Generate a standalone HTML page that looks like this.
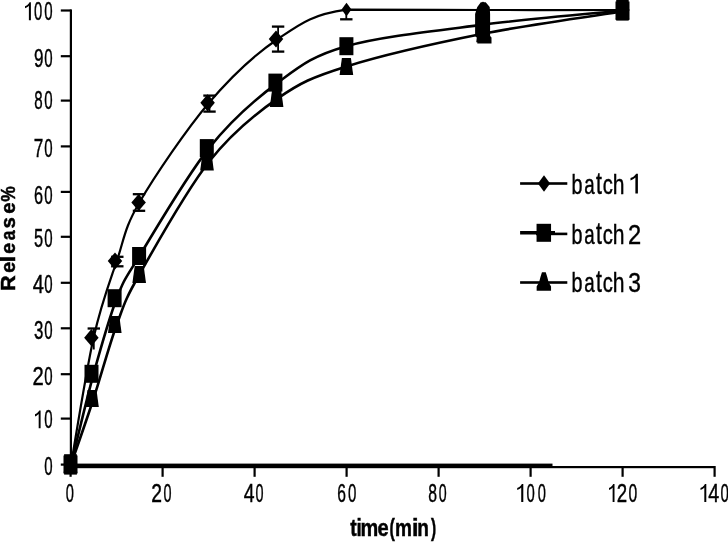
<!DOCTYPE html>
<html><head><meta charset="utf-8"><style>
html,body{margin:0;padding:0;background:#fff;}
svg{display:block;font-family:"Liberation Sans",sans-serif;will-change:transform;}
</style></head><body>
<svg width="728" height="542" viewBox="0 0 728 542">
<rect x="69.8" y="9.4" width="2.2" height="458" fill="#000"/>
<rect x="70" y="466" width="644.5" height="2.2" fill="#000"/>
<rect x="70" y="463.6" width="482.5" height="3" fill="#000"/>
<rect x="60.8" y="463.50" width="10" height="2.2" fill="#000"/>
<rect x="60.8" y="417.50" width="10" height="2.2" fill="#000"/>
<rect x="60.8" y="373.10" width="10" height="2.2" fill="#000"/>
<rect x="60.8" y="327.20" width="10" height="2.2" fill="#000"/>
<rect x="60.8" y="281.70" width="10" height="2.2" fill="#000"/>
<rect x="60.8" y="235.70" width="10" height="2.2" fill="#000"/>
<rect x="60.8" y="190.80" width="10" height="2.2" fill="#000"/>
<rect x="60.8" y="145.30" width="10" height="2.2" fill="#000"/>
<rect x="60.8" y="99.50" width="10" height="2.2" fill="#000"/>
<rect x="60.8" y="55.10" width="10" height="2.2" fill="#000"/>
<rect x="60.8" y="9.40" width="10" height="2.2" fill="#000"/>
<rect x="69.50" y="466" width="2.2" height="10.8" fill="#000"/>
<rect x="161.50" y="466" width="2.2" height="10.8" fill="#000"/>
<rect x="253.50" y="466" width="2.2" height="10.8" fill="#000"/>
<rect x="345.50" y="466" width="2.2" height="10.8" fill="#000"/>
<rect x="437.50" y="466" width="2.2" height="10.8" fill="#000"/>
<rect x="529.50" y="466" width="2.2" height="10.8" fill="#000"/>
<rect x="621.50" y="466" width="2.2" height="10.8" fill="#000"/>
<rect x="713.50" y="466" width="2.2" height="10.8" fill="#000"/>
<path d="M71.00,464.50 C74.77,443.37 85.97,371.62 93.60,337.70 C101.23,303.78 109.17,283.53 116.80,261.00 C124.43,238.47 124.03,228.87 139.40,202.50 C154.77,176.13 185.93,130.05 209.00,102.80 C232.07,75.55 254.88,54.53 277.80,39.00 C300.72,23.47 312.13,14.43 346.50,9.60 C380.87,9.60 438.00,9.93 484.00,10.00 C530.00,10.07 599.42,10.00 622.50,10.00" fill="none" stroke="#000" stroke-width="2.2"/>
<path d="M71.00,464.50 C74.77,449.38 85.97,401.52 93.60,373.80 C101.23,346.08 109.17,317.83 116.80,298.20 C124.43,278.57 124.03,281.02 139.40,256.00 C154.77,230.98 185.93,177.00 209.00,148.10 C232.07,119.20 254.88,99.58 277.80,82.60 C300.72,65.62 312.13,55.87 346.50,46.20 C380.87,36.53 438.00,30.55 484.00,24.60 C530.00,18.65 599.42,12.85 622.50,10.50" fill="none" stroke="#000" stroke-width="2.6"/>
<path d="M71.00,464.50 C74.77,453.50 85.97,421.83 93.60,398.50 C101.23,375.17 109.17,345.17 116.80,324.50 C124.43,303.83 124.03,301.62 139.40,274.50 C154.77,247.38 185.93,191.15 209.00,161.80 C232.07,132.45 254.88,114.28 277.80,98.40 C300.72,82.52 312.13,77.30 346.50,66.50 C380.87,55.70 438.00,42.77 484.00,33.60 C530.00,24.43 599.42,15.18 622.50,11.50" fill="none" stroke="#000" stroke-width="2.6"/>
<line x1="93.80" y1="328.50" x2="93.80" y2="349.50" stroke="#000" stroke-width="1.8"/>
<line x1="87.60" y1="328.50" x2="100.00" y2="328.50" stroke="#000" stroke-width="2.3"/>
<line x1="117.30" y1="256.80" x2="117.30" y2="266.30" stroke="#000" stroke-width="1.8"/>
<line x1="111.10" y1="256.80" x2="123.50" y2="256.80" stroke="#000" stroke-width="2.3"/>
<line x1="111.10" y1="266.30" x2="123.50" y2="266.30" stroke="#000" stroke-width="2.3"/>
<line x1="139.00" y1="194.20" x2="139.00" y2="210.80" stroke="#000" stroke-width="1.8"/>
<line x1="132.80" y1="194.20" x2="145.20" y2="194.20" stroke="#000" stroke-width="2.3"/>
<line x1="132.80" y1="210.80" x2="145.20" y2="210.80" stroke="#000" stroke-width="2.3"/>
<line x1="209.50" y1="95.60" x2="209.50" y2="111.60" stroke="#000" stroke-width="1.8"/>
<line x1="203.30" y1="95.60" x2="215.70" y2="95.60" stroke="#000" stroke-width="2.3"/>
<line x1="203.30" y1="111.60" x2="215.70" y2="111.60" stroke="#000" stroke-width="2.3"/>
<line x1="278.10" y1="26.60" x2="278.10" y2="51.60" stroke="#000" stroke-width="1.8"/>
<line x1="271.90" y1="26.60" x2="284.30" y2="26.60" stroke="#000" stroke-width="2.3"/>
<line x1="271.90" y1="51.60" x2="284.30" y2="51.60" stroke="#000" stroke-width="2.3"/>
<line x1="346.30" y1="9.60" x2="346.30" y2="19.30" stroke="#000" stroke-width="1.8"/>
<line x1="340.10" y1="19.30" x2="352.50" y2="19.30" stroke="#000" stroke-width="2.3"/>
<polygon points="66.00,455.90 75.00,455.90 77.30,473.10 63.70,473.10" fill="#000"/>
<polygon points="87.50,389.90 96.50,389.90 98.80,407.10 85.20,407.10" fill="#000"/>
<polygon points="110.30,315.90 119.30,315.90 121.60,333.10 108.00,333.10" fill="#000"/>
<polygon points="134.70,265.90 143.70,265.90 146.00,283.10 132.40,283.10" fill="#000"/>
<polygon points="202.50,153.20 211.50,153.20 213.80,170.40 200.20,170.40" fill="#000"/>
<polygon points="272.10,89.80 281.10,89.80 283.40,107.00 269.80,107.00" fill="#000"/>
<polygon points="341.90,57.90 350.90,57.90 353.20,75.10 339.60,75.10" fill="#000"/>
<polygon points="478.50,25.00 487.50,25.00 489.80,42.20 476.20,42.20" fill="#000"/>
<polygon points="618.00,2.90 627.00,2.90 629.30,20.10 615.70,20.10" fill="#000"/>
<rect x="63.50" y="455.50" width="14" height="18" fill="#000"/>
<rect x="84.50" y="364.80" width="14" height="18" fill="#000"/>
<rect x="107.60" y="289.20" width="14" height="18" fill="#000"/>
<rect x="132.10" y="247.00" width="14" height="18" fill="#000"/>
<rect x="199.80" y="139.10" width="14" height="18" fill="#000"/>
<rect x="268.40" y="73.60" width="14" height="18" fill="#000"/>
<rect x="339.40" y="37.20" width="14" height="18" fill="#000"/>
<rect x="476.00" y="15.60" width="14" height="18" fill="#000"/>
<rect x="615.50" y="1.50" width="14" height="18" fill="#000"/>
<path d="M70.50,455.90 L77.75,464.50 L70.50,473.10 L63.25,464.50Z" fill="#000"/>
<path d="M91.40,329.10 L98.65,337.70 L91.40,346.30 L84.15,337.70Z" fill="#000"/>
<path d="M115.00,252.40 L122.25,261.00 L115.00,269.60 L107.75,261.00Z" fill="#000"/>
<path d="M138.60,193.90 L145.85,202.50 L138.60,211.10 L131.35,202.50Z" fill="#000"/>
<path d="M207.60,94.20 L214.85,102.80 L207.60,111.40 L200.35,102.80Z" fill="#000"/>
<path d="M276.00,30.40 L283.25,39.00 L276.00,47.60 L268.75,39.00Z" fill="#000"/>
<path d="M346.50,2.85 L351.50,9.60 L346.50,16.35 L341.50,9.60Z" fill="#000"/>
<path d="M483.00,1.40 L490.25,10.00 L483.00,18.60 L475.75,10.00Z" fill="#000"/>
<path d="M622.50,1.40 L629.75,10.00 L622.50,18.60 L615.25,10.00Z" fill="#000"/>
<rect x="64.1" y="454.2" width="12.8" height="20.4" fill="#000"/>
<rect x="616.2" y="0" width="12.5" height="20.6" fill="#000"/>
<polygon points="480.8,2.2 485.7,2.2 489.7,7 490.1,14 490.1,36 491.5,37.5 491.5,43.4 477.3,43.4 477.3,38 475.1,36 475.1,14 477.3,7" fill="#000"/>
<rect x="520.1" y="182.2" width="47.2" height="2.6" fill="#000"/>
<path d="M544.00,175.25 L550.10,183.50 L544.00,191.75 L537.90,183.50Z" fill="#000"/>
<rect x="520.1" y="231.0" width="17" height="3.5" fill="#000"/>
<rect x="536" y="232.6" width="31.3" height="2.6" fill="#000"/>
<rect x="550" y="231.0" width="5" height="2.2" fill="#000"/>
<rect x="536.55" y="223.80" width="14.5" height="18" fill="#000"/>
<rect x="520.1" y="281.2" width="47.2" height="2.6" fill="#000"/>
<polygon points="541.95,272.25 545.75,272.25 547.25,276.95 548.65,282.45 550.25,285.05 551.05,286.45 551.05,290.65 536.65,290.65 536.65,286.45 537.45,285.05 539.05,282.45 540.45,276.95" fill="#000"/>
<text transform="translate(571.42,193.60) scale(0.6993,1)" font-size="28.3" stroke="#000" stroke-width="0.45">b</text>
<text transform="translate(584.31,193.60) scale(0.6604,1)" font-size="28.3" stroke="#000" stroke-width="0.45">a</text>
<text transform="translate(595.88,193.60) scale(0.7472,1.11)" font-size="28.3" stroke="#000" stroke-width="0.45">t</text>
<text transform="translate(602.74,193.60) scale(0.7130,1)" font-size="28.3" stroke="#000" stroke-width="0.45">c</text>
<text transform="translate(612.84,193.60) scale(0.7455,1)" font-size="28.3" stroke="#000" stroke-width="0.45">h</text>
<polygon points="635.38,193.60 637.90,193.60 637.90,173.79 636.19,173.79 634.97,175.35 633.08,176.90 630.50,178.03 630.50,180.44 632.53,179.59 634.16,178.60 635.38,177.61" fill="#000"/>
<text transform="translate(571.42,244.40) scale(0.6993,1)" font-size="28.3" stroke="#000" stroke-width="0.45">b</text>
<text transform="translate(584.31,244.40) scale(0.6604,1)" font-size="28.3" stroke="#000" stroke-width="0.45">a</text>
<text transform="translate(595.88,244.40) scale(0.7472,1.11)" font-size="28.3" stroke="#000" stroke-width="0.45">t</text>
<text transform="translate(602.74,244.40) scale(0.7130,1)" font-size="28.3" stroke="#000" stroke-width="0.45">c</text>
<text transform="translate(612.84,244.40) scale(0.7455,1)" font-size="28.3" stroke="#000" stroke-width="0.45">h</text>
<text transform="translate(628.01,244.40) scale(0.8377,1)" font-size="28.3" stroke="#000" stroke-width="0.45">2</text>
<text transform="translate(571.42,291.80) scale(0.6993,1)" font-size="28.3" stroke="#000" stroke-width="0.45">b</text>
<text transform="translate(584.31,291.80) scale(0.6604,1)" font-size="28.3" stroke="#000" stroke-width="0.45">a</text>
<text transform="translate(595.88,291.80) scale(0.7472,1.11)" font-size="28.3" stroke="#000" stroke-width="0.45">t</text>
<text transform="translate(602.74,291.80) scale(0.7130,1)" font-size="28.3" stroke="#000" stroke-width="0.45">c</text>
<text transform="translate(612.84,291.80) scale(0.7455,1)" font-size="28.3" stroke="#000" stroke-width="0.45">h</text>
<text transform="translate(628.33,291.80) scale(0.8049,1)" font-size="28.3" stroke="#000" stroke-width="0.45">3</text>
<text transform="translate(44.31,474.61) scale(0.5884,1)" font-size="25.6" stroke="#000" stroke-width="0.45">0</text>
<polygon points="38.69,428.36 40.60,428.36 40.60,410.44 39.31,410.44 38.38,411.84 36.95,413.25 35.00,414.28 35.00,416.45 36.54,415.68 37.77,414.79 38.69,413.89" fill="#000"/>
<text transform="translate(44.31,428.36) scale(0.5884,1)" font-size="25.6" stroke="#000" stroke-width="0.45">0</text>
<text transform="translate(32.38,384.81) scale(0.7889,1)" font-size="25.6" stroke="#000" stroke-width="0.45">2</text>
<text transform="translate(44.31,384.81) scale(0.5884,1)" font-size="25.6" stroke="#000" stroke-width="0.45">0</text>
<text transform="translate(33.96,339.06) scale(0.6591,1)" font-size="25.6" stroke="#000" stroke-width="0.45">3</text>
<text transform="translate(44.31,339.06) scale(0.5884,1)" font-size="25.6" stroke="#000" stroke-width="0.45">0</text>
<text transform="translate(32.64,293.06) scale(0.7829,1)" font-size="25.6" stroke="#000" stroke-width="0.45">4</text>
<text transform="translate(44.31,293.06) scale(0.5884,1)" font-size="25.6" stroke="#000" stroke-width="0.45">0</text>
<text transform="translate(34.04,247.11) scale(0.6426,1)" font-size="25.6" stroke="#000" stroke-width="0.45">5</text>
<text transform="translate(44.31,247.11) scale(0.5884,1)" font-size="25.6" stroke="#000" stroke-width="0.45">0</text>
<text transform="translate(33.97,203.61) scale(0.6349,1)" font-size="25.6" stroke="#000" stroke-width="0.45">6</text>
<text transform="translate(44.31,203.61) scale(0.5884,1)" font-size="25.6" stroke="#000" stroke-width="0.45">0</text>
<text transform="translate(33.82,157.01) scale(0.6702,1)" font-size="25.6" stroke="#000" stroke-width="0.45">7</text>
<text transform="translate(44.31,157.01) scale(0.5884,1)" font-size="25.6" stroke="#000" stroke-width="0.45">0</text>
<text transform="translate(34.14,109.31) scale(0.5911,1)" font-size="25.6" stroke="#000" stroke-width="0.45">8</text>
<text transform="translate(44.31,109.31) scale(0.5884,1)" font-size="25.6" stroke="#000" stroke-width="0.45">0</text>
<text transform="translate(33.90,66.76) scale(0.6681,1)" font-size="25.6" stroke="#000" stroke-width="0.45">9</text>
<text transform="translate(44.31,66.76) scale(0.5884,1)" font-size="25.6" stroke="#000" stroke-width="0.45">0</text>
<polygon points="28.89,20.26 30.90,20.26 30.90,2.34 29.54,2.34 28.57,3.74 27.05,5.15 25.00,6.18 25.00,8.35 26.62,7.58 27.92,6.69 28.89,5.79" fill="#000"/>
<text transform="translate(34.02,20.26) scale(0.5802,1)" font-size="25.6" stroke="#000" stroke-width="0.45">0</text>
<text transform="translate(44.31,20.26) scale(0.5884,1)" font-size="25.6" stroke="#000" stroke-width="0.45">0</text>
<text transform="translate(65.63,502.00) scale(0.5720,1)" font-size="25.6" stroke="#000" stroke-width="0.45">0</text>
<text transform="translate(151.23,502.00) scale(0.7546,1)" font-size="25.6" stroke="#000" stroke-width="0.45">2</text>
<text transform="translate(163.54,502.00) scale(0.5638,1)" font-size="25.6" stroke="#000" stroke-width="0.45">0</text>
<text transform="translate(243.65,502.00) scale(0.7597,1)" font-size="25.6" stroke="#000" stroke-width="0.45">4</text>
<text transform="translate(255.54,502.00) scale(0.5638,1)" font-size="25.6" stroke="#000" stroke-width="0.45">0</text>
<text transform="translate(337.21,502.00) scale(0.6095,1)" font-size="25.6" stroke="#000" stroke-width="0.45">6</text>
<text transform="translate(347.91,502.00) scale(0.5884,1)" font-size="25.6" stroke="#000" stroke-width="0.45">0</text>
<text transform="translate(428.21,502.00) scale(0.6160,1)" font-size="25.6" stroke="#000" stroke-width="0.45">8</text>
<text transform="translate(438.84,502.00) scale(0.5557,1)" font-size="25.6" stroke="#000" stroke-width="0.45">0</text>
<polygon points="521.22,502.00 523.30,502.00 523.30,484.08 521.89,484.08 520.89,485.49 519.32,486.90 517.20,487.92 517.20,490.10 518.88,489.33 520.22,488.43 521.22,487.54" fill="#000"/>
<text transform="translate(526.62,502.00) scale(0.5802,1)" font-size="25.6" stroke="#000" stroke-width="0.45">0</text>
<text transform="translate(537.73,502.00) scale(0.5720,1)" font-size="25.6" stroke="#000" stroke-width="0.45">0</text>
<polygon points="612.63,502.00 614.50,502.00 614.50,484.08 613.23,484.08 612.32,485.49 610.91,486.90 609.00,487.92 609.00,490.10 610.51,489.33 611.72,488.43 612.63,487.54" fill="#000"/>
<text transform="translate(616.66,502.00) scale(0.7288,1)" font-size="25.6" stroke="#000" stroke-width="0.45">2</text>
<text transform="translate(628.39,502.00) scale(0.6129,1)" font-size="25.6" stroke="#000" stroke-width="0.45">0</text>
<polygon points="704.32,502.00 706.30,502.00 706.30,484.08 704.96,484.08 704.01,485.49 702.52,486.90 700.50,487.92 700.50,490.10 702.09,489.33 703.37,488.43 704.32,487.54" fill="#000"/>
<text transform="translate(708.35,502.00) scale(0.7674,1)" font-size="25.6" stroke="#000" stroke-width="0.45">4</text>
<text transform="translate(720.41,502.00) scale(0.5884,1)" font-size="25.6" stroke="#000" stroke-width="0.45">0</text>
<text transform="translate(350.16,536.00) scale(0.7840,1)" font-size="24.8" font-weight="bold" stroke="#000" stroke-width="0.5">t</text>
<text transform="translate(356.38,536.00) scale(0.7641,1)" font-size="24.8" font-weight="bold" stroke="#000" stroke-width="0.5">i</text>
<text transform="translate(360.48,536.00) scale(0.8051,1)" font-size="24.8" font-weight="bold" stroke="#000" stroke-width="0.5">m</text>
<text transform="translate(377.52,536.00) scale(0.8099,1)" font-size="24.8" font-weight="bold" stroke="#000" stroke-width="0.5">e</text>
<text transform="translate(389.61,536.00) scale(0.6429,1)" font-size="24.8" font-weight="bold" stroke="#000" stroke-width="0.5">(</text>
<text transform="translate(394.94,536.00) scale(0.7681,1)" font-size="24.8" font-weight="bold" stroke="#000" stroke-width="0.5">m</text>
<text transform="translate(411.97,536.00) scale(0.9404,1)" font-size="24.8" font-weight="bold" stroke="#000" stroke-width="0.5">i</text>
<text transform="translate(417.34,536.00) scale(0.7682,1)" font-size="24.8" font-weight="bold" stroke="#000" stroke-width="0.5">n</text>
<text transform="translate(430.88,536.00) scale(0.6286,1)" font-size="24.8" font-weight="bold" stroke="#000" stroke-width="0.5">)</text>
<text transform="translate(14.5,0) rotate(-90) translate(-290.95,0) scale(1.0452,1)" font-size="20.8" font-weight="bold" stroke="#000" stroke-width="0.5">R</text>
<text transform="translate(14.5,0) rotate(-90) translate(-272.66,0) scale(0.9358,1)" font-size="20.8" font-weight="bold" stroke="#000" stroke-width="0.5">e</text>
<text transform="translate(14.5,0) rotate(-90) translate(-262.23,0) scale(1.1213,1)" font-size="20.8" font-weight="bold" stroke="#000" stroke-width="0.5">l</text>
<text transform="translate(14.5,0) rotate(-90) translate(-253.76,0) scale(0.9358,1)" font-size="20.8" font-weight="bold" stroke="#000" stroke-width="0.5">e</text>
<text transform="translate(14.5,0) rotate(-90) translate(-240.32,0) scale(0.8476,1)" font-size="20.8" font-weight="bold" stroke="#000" stroke-width="0.5">a</text>
<text transform="translate(14.5,0) rotate(-90) translate(-228.52,0) scale(0.9816,1)" font-size="20.8" font-weight="bold" stroke="#000" stroke-width="0.5">s</text>
<text transform="translate(14.5,0) rotate(-90) translate(-213.79,0) scale(0.9757,1)" font-size="20.8" font-weight="bold" stroke="#000" stroke-width="0.5">e</text>
<text transform="translate(14.5,0) rotate(-90) translate(-201.83,0) scale(0.8377,1)" font-size="20.8" font-weight="bold" stroke="#000" stroke-width="0.5">%</text>
</svg>
</body></html>
